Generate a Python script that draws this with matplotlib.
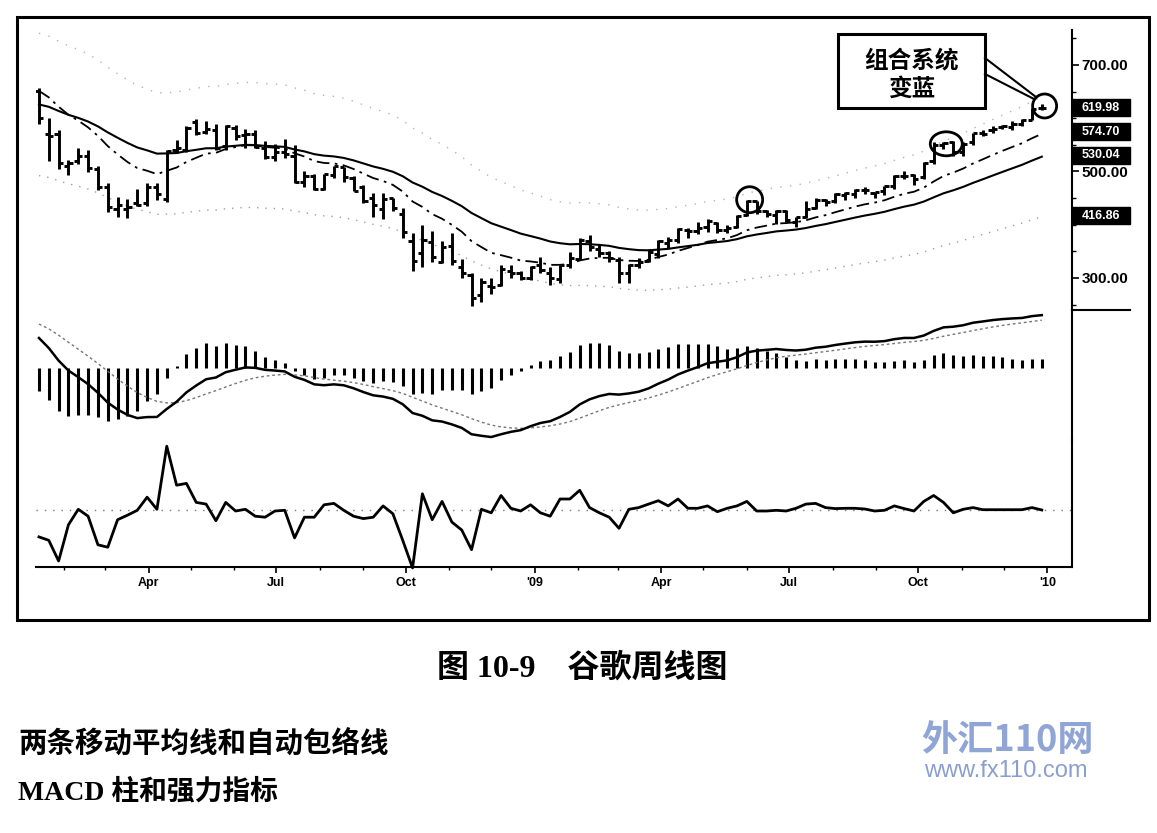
import datetime as dt
import numpy as np
import matplotlib
matplotlib.use("Agg")
import matplotlib.pyplot as plt
import matplotlib.dates as mdates
from matplotlib.patches import Ellipse, Rectangle
from matplotlib.ticker import MultipleLocator
from matplotlib.transforms import blended_transform_factory

plt.rcParams['font.family'] = ['Liberation Sans', 'Noto Sans CJK SC', 'DejaVu Sans']

# ---------------- data (weekly GOOG bars, week starting Monday) ----------------
first_week = dt.date(2008, 1, 14)

opens = [651, 570, 570, 510, 520, 530, 505, 471, 430, 430,
         440, 440, 471, 448, 540, 540, 592, 575, 578, 547,
         582, 568, 571, 545, 527, 537, 530, 480, 492, 468,
         494, 508, 487, 470, 450, 430, 450, 420, 370, 346,
         367, 330, 360, 320, 305, 268, 285, 287, 314, 310,
         300, 325, 310, 299, 325, 336, 370, 355, 346, 333,
         310, 324, 332, 345, 366, 371, 390, 389, 396, 404,
         391, 396, 418, 445, 425, 418, 425, 406, 415, 432,
         446, 445, 456, 458, 466, 460, 463, 472, 492, 493,
         490, 520, 550, 555, 536, 555, 573, 577, 583, 583,
         590, 597, 620]
highs = [657, 600, 578, 522, 545, 541, 510, 478, 452, 449,
         468, 478, 478, 541, 559, 586, 599, 594, 589, 588,
         588, 580, 578, 557, 551, 561, 549, 500, 496, 496,
         511, 509, 492, 475, 460, 460, 450, 432, 385, 400,
         389, 370, 385, 336, 310, 300, 300, 325, 325, 314,
         322, 340, 320, 325, 348, 375, 380, 364, 350, 340,
         327, 337, 355, 372, 377, 393, 394, 405, 410, 406,
         400, 418, 447, 445, 427, 428, 428, 415, 444, 450,
         448, 460, 462, 468, 470, 462, 473, 493, 500, 496,
         518, 555, 555, 558, 556, 573, 577, 585, 588, 594,
         598, 620, 626]
lows = [590, 520, 505, 494, 515, 499, 465, 424, 414, 412,
        436, 436, 446, 443, 535, 536, 568, 570, 540, 540,
        560, 545, 545, 524, 520, 525, 478, 470, 465, 465,
        488, 480, 463, 440, 414, 410, 425, 375, 313, 320,
        330, 328, 325, 300, 247, 255, 270, 285, 300, 297,
        296, 310, 286, 290, 318, 334, 350, 340, 330, 290,
        290, 318, 330, 337, 356, 366, 376, 383, 387, 385,
        385, 393, 416, 420, 415, 402, 406, 395, 412, 429,
        436, 440, 447, 450, 458, 450, 455, 468, 485, 475,
        485, 515, 542, 530, 529, 550, 566, 573, 580, 578,
        585, 597, 616]
closes = [600, 566, 516, 516, 529, 507, 471, 433, 438, 433,
          438, 471, 457, 539, 544, 581, 573, 580, 544, 586,
          567, 571, 546, 528, 537, 533, 481, 492, 468, 495,
          510, 490, 463, 444, 438, 449, 431, 387, 332, 372,
          339, 359, 331, 310, 262, 292, 283, 316, 310, 300,
          321, 315, 300, 325, 338, 371, 358, 346, 338, 309,
          324, 330, 348, 370, 372, 392, 389, 394, 407, 390,
          394, 417, 444, 425, 420, 425, 409, 414, 430, 447,
          443, 457, 460, 465, 465, 461, 472, 492, 492, 485,
          516, 550, 554, 536, 551, 572, 570, 580, 585, 590,
          596, 618, 619.98]

# Force index (2-week EMA)
force_index = [-26.9, -30.3, -51.0, -14.8, 0.7, -6.2, -34.8, -37.2, -9.7, -5.2,
               -0.3, 12.8, 0.7, 63.8, 24.8, 26.6, 7.6, 5.9, -10.7, 7.6,
               -1.0, 0.7, -6.2, -7.2, -1.0, -0.3, -27.9, -7.2, -7.2, 5.2,
               6.6, -0.3, -6.2, -8.6, -7.2, 4.1, -3.8, -30.3, -57.9, 16.2,
               -9.7, 8.6, -12.1, -20.0, -39.7, 0.7, -2.8, 14.5, 1.7, -1.0,
               5.2, -2.8, -6.2, 11.0, 11.0, 19.7, 2.4, -2.8, -7.2, -18.3,
               0.7, 2.4, 5.9, 9.3, 4.1, 11.0, 1.7, 1.7, 4.1, -1.7,
               1.7, 4.1, 8.6, -1.0, -1.0, -0.3, -1.0, 1.7, 5.9, 6.6,
               2.4, 1.4, 1.7, 1.7, 1.0, -1.0, -0.3, 4.1, 1.4, -1.0,
               8.6, 14.5, 7.6, -2.8, 0.7, 2.4, 0.3, 0.3, 0.3, 0.3,
               0.3, 2.4, 0.0]

ema13_start = 660.0
ema26_start = 628.0
ema12_start = 662.0
signal_start = 42.0
envelope_pct = 0.2135

last_values = [619.98, 574.70, 530.04, 416.86]
last_labels = ['619.98', '574.70', '530.04', '416.86']
price_ticks = [300, 500, 700]

quarter_dates = [dt.date(2008, 4, 1), dt.date(2008, 7, 1), dt.date(2008, 10, 1),
                 dt.date(2009, 1, 1), dt.date(2009, 4, 1), dt.date(2009, 7, 1),
                 dt.date(2009, 10, 1), dt.date(2010, 1, 1)]
quarter_labels = ['Apr', 'Jul', 'Oct', "'09", 'Apr', 'Jul', 'Oct', "'10"]

# highlighted bars: (bar index, price, width px, height px)
highlights = [(102, 623, 24, 24), (72, 447, 26, 26), (92, 552, 32, 24)]

callout_lines = ['组合系统', '变蓝']
caption = '图 10-9\u3000谷歌周线图'
note1 = '两条移动平均线和自动包络线'
note2 = 'MACD 柱和强力指标'


def ema(values, span, start):
    a = 2.0 / (span + 1)
    out, e = [], start
    for v in values:
        e = e + a * (v - e)
        out.append(e)
    return np.array(out)


closes_a = np.array(closes, dtype=float)
ema13 = ema(closes_a, 13, ema13_start)
ema26 = ema(closes_a, 26, ema26_start)
upper_env = ema26 * (1 + envelope_pct)
lower_env = ema26 * (1 - envelope_pct)
ema12 = ema(closes_a, 12, ema12_start)
macd_line = ema12 - ema26
signal_line = ema(macd_line, 9, signal_start)
macd_hist = macd_line - signal_line

# ---------------- figure ----------------
W, H = 1157, 833
fig = plt.figure(figsize=(W / 100, H / 100), dpi=100)
fig.patch.set_facecolor('white')


def px_axes(x0, y0, x1, y1):
    ax = fig.add_axes([x0 / W, 1 - y1 / H, (x1 - x0) / W, (y1 - y0) / H])
    ax.set_facecolor('none')
    return ax


dates = [first_week + dt.timedelta(days=7 * i) for i in range(len(closes))]
xd = mdates.date2num(dates)
x0num = mdates.date2num(first_week)
XLIM = (x0num - 2.1, x0num + 735.5)
DAY_PX = 1036 / (XLIM[1] - XLIM[0])

ax_p = px_axes(36, 30, 1072, 310)
ax_m = px_axes(36, 310, 1072, 440)
ax_ml = px_axes(36, 310, 1072, 440)
ax_f = px_axes(36, 440, 1072, 567)

for ax in (ax_p, ax_m, ax_ml, ax_f):
    ax.set_xlim(*XLIM)
    for s in ax.spines.values():
        s.set_visible(False)
    ax.tick_params(bottom=False, labelbottom=False, left=False, labelleft=False)
for ax in (ax_p, ax_m, ax_f):
    ax.spines['right'].set_visible(True)
    ax.spines['right'].set_linewidth(1.5)
ax_ml.axis('off')

# ---- price panel ----
PY = (239.9, 765.7)
ax_p.set_ylim(*PY)
PRICE_PX = 280 / (PY[1] - PY[0])
ax_p.plot(xd, upper_env, color='#b5b5b5', lw=1.0, ls=(0, (1, 6)))
ax_p.plot(xd, lower_env, color='#a0a0a0', lw=1.0, ls=(0, (1, 5)))
ax_p.plot(xd, ema26, color='black', lw=1.5)
ax_p.plot(xd, ema13, color='black', lw=1.3, ls=(0, (7, 3, 1.5, 3)))
ax_p.vlines(xd, lows, highs, color='black', lw=2.1)
ax_p.hlines(opens, xd - 3, xd, color='black', lw=2.1)
ax_p.hlines(closes, xd, xd + 3, color='black', lw=2.1)

ax_p.yaxis.tick_right()
ax_p.set_yticks(price_ticks)
ax_p.set_yticklabels([f'{v:.2f}' for v in price_ticks])
ax_p.yaxis.set_minor_locator(MultipleLocator(50))
ax_p.tick_params(axis='y', which='major', right=True, labelright=True, direction='out',
                 length=5, width=1.2, pad=2, labelsize=11)
ax_p.tick_params(axis='y', which='minor', right=True, direction='out', length=3, width=1)
for lbl in ax_p.get_yticklabels():
    lbl.set_fontweight('bold')

trans = blended_transform_factory(ax_p.transAxes, ax_p.transData)
bw = 58 / 1036
bh = 17 / PRICE_PX
for v, t in zip(last_values, last_labels):
    ax_p.add_patch(Rectangle((1.0, v - bh / 2), bw, bh, transform=trans,
                             fc='black', ec='black', clip_on=False, zorder=5))
    ax_p.text(1.0 + bw / 2, v, t, transform=trans, color='white', fontsize=9,
              fontweight='bold', ha='center', va='center', zorder=6, clip_on=False)

for idx, price, wpx, hpx in highlights:
    ax_p.add_patch(Ellipse((xd[idx] + 2, price), wpx / DAY_PX, hpx / PRICE_PX,
                           fill=False, ec='black', lw=2.0, clip_on=False, zorder=4))

# ---- MACD panel ----
ax_m.set_ylim(-37.9, 30.5)
ax_m.vlines(xd, 0, macd_hist, color='black', lw=2.2)
ax_ml.set_ylim(-63.7, 51.3)
ax_ml.plot(xd, signal_line, color='#777777', lw=1.0, ls=(0, (2, 2)))
ax_ml.plot(xd, macd_line, color='black', lw=1.8)

# ---- Force index panel ----
ax_f.set_ylim(-57, 70)
ax_f.axhline(0, color='#777777', lw=1.0, ls=(0, (1, 5)))
ax_f.plot(xd, force_index, color='black', lw=2.0, clip_on=False)
ax_f.spines['bottom'].set_visible(True)
ax_f.spines['bottom'].set_linewidth(1.5)
ax_f.set_xticks(mdates.date2num(quarter_dates))
ax_f.set_xticklabels(quarter_labels)
ax_f.xaxis.set_minor_locator(mdates.MonthLocator())
ax_f.tick_params(axis='x', which='major', bottom=True, labelbottom=True, direction='out',
                 length=4, width=1.2, pad=3, labelsize=9)
ax_f.tick_params(axis='x', which='minor', bottom=True, direction='out', length=2, width=1)
for lbl in ax_f.get_xticklabels():
    lbl.set_fontweight('bold')
ax_f.set_yticks([])

# ---- overlay: frame, callout ----
ov = fig.add_axes([0, 0, 1, 1])
ov.set_facecolor('none')
ov.set_xlim(0, W)
ov.set_ylim(H, 0)
ov.axis('off')
ov.add_patch(Rectangle((17, 17), 1132, 603, fill=False, ec='black', lw=2.2))
ov.plot([1072, 1130], [310, 310], color='black', lw=1.5)
ov.add_patch(Rectangle((838, 34), 147, 74, fc='white', ec='black', lw=2.2))
ov.text(911.5, 60, callout_lines[0], fontsize=17, fontweight='bold',
        family=['Noto Sans CJK SC'], ha='center', va='center')
ov.text(911.5, 89, callout_lines[1], fontsize=17, fontweight='bold',
        family=['Noto Sans CJK SC'], ha='center', va='center')
ov.plot([985, 1036], [58, 97], color='black', lw=1.5)
ov.plot([985, 1034], [74, 99], color='black', lw=1.5)

# ---- texts below ----
fig.text(582 / W, 1 - 668 / H, caption, fontsize=23, fontweight='bold', ha='center', va='center',
         family=['Liberation Serif', 'Noto Sans CJK SC'])
fig.text(18 / W, 1 - 745 / H, note1, fontsize=20.5, fontweight='bold', ha='left', va='center',
         family=['Noto Sans CJK SC'])
fig.text(18 / W, 1 - 792 / H, note2, fontsize=20, fontweight='bold', ha='left', va='center',
         family=['Liberation Serif', 'Noto Sans CJK SC'])
fig.text(1007 / W, 1 - 740 / H, '外汇110网', fontsize=26, fontweight='bold', color='#8fa5d6',
         ha='center', va='center', family=['Noto Sans CJK SC'])
fig.text(1006 / W, 1 - 771 / H, 'www.fx110.com', fontsize=17, color='#8b9fcf',
         ha='center', va='center', family=['Liberation Sans'])

fig.savefig('out.png', dpi=100)
